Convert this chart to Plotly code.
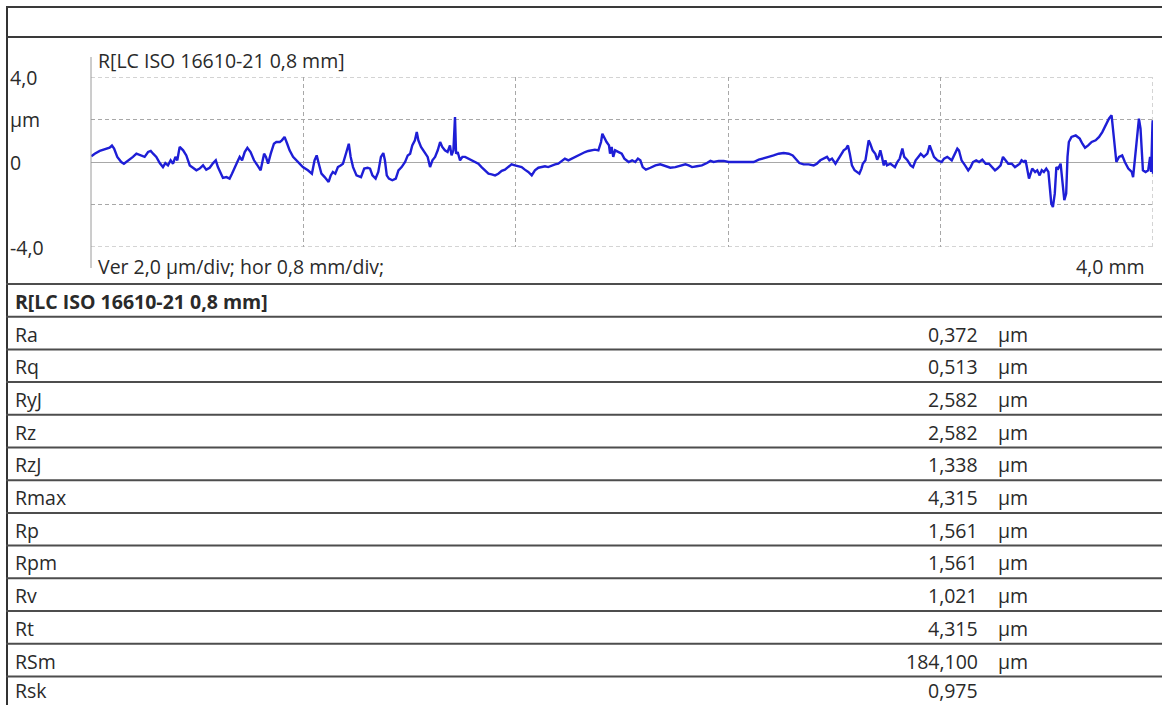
import plotly.graph_objects as go

W, H = 1162, 705

# Roughness profile after the 0.8 mm Gaussian filter: position (mm) vs height (µm)
pos_mm = [
    0.001, 0.014, 0.033, 0.045, 0.058, 0.070, 0.079, 0.087, 0.099, 0.114,
    0.124, 0.139, 0.158, 0.171, 0.190, 0.202, 0.215, 0.225, 0.234, 0.246,
    0.259, 0.271, 0.280, 0.290, 0.300, 0.309, 0.318, 0.325, 0.334, 0.347,
    0.359, 0.372, 0.384, 0.397, 0.409, 0.422, 0.434, 0.447, 0.460, 0.470,
    0.478, 0.488, 0.497, 0.510, 0.522, 0.531, 0.541, 0.551, 0.560, 0.569,
    0.579, 0.589, 0.601, 0.614, 0.627, 0.639, 0.644, 0.652, 0.659, 0.667,
    0.677, 0.689, 0.698, 0.711, 0.719, 0.729, 0.739, 0.748, 0.761, 0.780,
    0.798, 0.817, 0.832, 0.842, 0.850, 0.858, 0.868, 0.880, 0.895, 0.903,
    0.911, 0.920, 0.930, 0.940, 0.949, 0.962, 0.971, 0.978, 0.987, 1.000,
    1.017, 1.029, 1.042, 1.051, 1.060, 1.072, 1.082, 1.092, 1.101, 1.107,
    1.114, 1.122, 1.135, 1.148, 1.158, 1.170, 1.183, 1.193, 1.202, 1.210,
    1.220, 1.227, 1.233, 1.243, 1.256, 1.268, 1.277, 1.286, 1.296, 1.306,
    1.315, 1.323, 1.333, 1.343, 1.352, 1.358, 1.365, 1.371, 1.375, 1.381,
    1.390, 1.399, 1.409, 1.421, 1.434, 1.446, 1.459, 1.471, 1.484, 1.497,
    1.509, 1.522, 1.534, 1.547, 1.559, 1.572, 1.584, 1.597, 1.609, 1.622,
    1.634, 1.647, 1.660, 1.672, 1.685, 1.697, 1.710, 1.722, 1.735, 1.748,
    1.760, 1.773, 1.785, 1.798, 1.810, 1.823, 1.836, 1.848, 1.861, 1.873,
    1.886, 1.898, 1.911, 1.921, 1.926, 1.934, 1.942, 1.951, 1.955, 1.961,
    1.967, 1.974, 1.986, 1.999, 2.009,
    2.025, 2.038, 2.050, 2.060, 2.069, 2.078, 2.090, 2.107, 2.126, 2.144,
    2.163, 2.182, 2.201, 2.220, 2.239, 2.251, 2.264, 2.282, 2.301, 2.320,
    2.333, 2.345, 2.364, 2.383, 2.402, 2.427, 2.452, 2.477, 2.496, 2.515,
    2.534, 2.552, 2.571, 2.590, 2.609, 2.628, 2.643, 2.655, 2.668, 2.684,
    2.703, 2.722, 2.734, 2.747, 2.760, 2.772, 2.781, 2.791, 2.804, 2.816,
    2.829, 2.835, 2.844, 2.851, 2.858, 2.866, 2.876, 2.885, 2.894, 2.902,
    2.907, 2.917, 2.923, 2.929, 2.935, 2.944, 2.954, 2.961, 2.967, 2.973,
    2.979, 2.986, 2.992, 2.998, 3.011,
    3.028, 3.037, 3.046, 3.056, 3.063, 3.075, 3.087, 3.096, 3.106, 3.116,
    3.125, 3.137, 3.150, 3.159, 3.166, 3.175, 3.188, 3.204, 3.213, 3.225,
    3.242, 3.254, 3.263, 3.269, 3.279, 3.292, 3.304, 3.313, 3.322, 3.334,
    3.345, 3.357, 3.370, 3.382, 3.395, 3.405, 3.414, 3.426, 3.435, 3.445,
    3.455, 3.468, 3.480, 3.489, 3.498, 3.505, 3.514, 3.520, 3.527, 3.533,
    3.539, 3.545, 3.556, 3.564, 3.573, 3.581, 3.589, 3.598, 3.606, 3.611,
    3.617, 3.623, 3.630, 3.636, 3.643, 3.652, 3.658, 3.666, 3.673, 3.678,
    3.683, 3.693, 3.709, 3.724, 3.734, 3.744, 3.756, 3.769, 3.784, 3.797,
    3.809, 3.822, 3.834, 3.844, 3.853, 3.862, 3.872, 3.884, 3.894, 3.907,
    3.920, 3.925, 3.932, 3.941, 3.947, 3.953, 3.962, 3.972, 3.982, 3.989,
    3.993, 3.998, 3.999, 4.000,
]
height_um = [
    0.27, 0.39, 0.52, 0.58, 0.63, 0.67, 0.77, 0.63, 0.24, 0.00,
    -0.08, 0.05, 0.24, 0.39, 0.31, 0.24, 0.47, 0.52, 0.39, 0.24,
    -0.05, -0.24, -0.05, -0.16, 0.08, -0.08, 0.24, 0.08, 0.71, 0.55,
    0.31, -0.16, -0.27, -0.39, -0.31, -0.16, -0.36, -0.27, -0.05, 0.08,
    -0.24, -0.47, -0.75, -0.71, -0.78, -0.55, -0.31, 0.00, 0.24, 0.08,
    0.47, 0.67, 0.47, 0.08, -0.16, -0.39, -0.08, 0.39, 0.24, -0.08,
    0.39, 0.86, 0.94, 0.94, 1.02, 1.18, 0.86, 0.55, 0.24, 0.00,
    -0.24, -0.39, -0.55, 0.08, 0.31, -0.08, -0.55, -0.71, -0.94, -0.63,
    -0.47, -0.55, -0.24, -0.16, -0.08, 0.47, 0.86, 0.24, -0.24, -0.63,
    -0.71, -0.31, -0.27, -0.31, -0.63, -0.78, -0.47, 0.24, 0.42, 0.08,
    -0.63, -0.78, -0.86, -0.78, -0.39, -0.24, 0.00, 0.31, 0.39, 0.78,
    1.02, 1.41, 1.02, 0.71, 0.47, 0.24, -0.24, 0.08, 0.24, 0.55,
    0.94, 0.71, 0.55, 0.47, 0.78, 0.31, 0.55, 2.12, 0.39, 0.47,
    0.08, 0.24, 0.24, 0.16, 0.08, 0.00, -0.08, -0.24, -0.39, -0.55,
    -0.58, -0.63, -0.55, -0.42, -0.36, -0.24, -0.11, -0.16, -0.20, -0.24,
    -0.36, -0.47, -0.63, -0.39, -0.27, -0.24, -0.20, -0.24, -0.16, -0.11,
    -0.08, 0.05, 0.16, 0.08, 0.16, 0.24, 0.31, 0.39, 0.47, 0.52,
    0.55, 0.58, 0.55, 0.94, 1.33, 1.10, 0.94, 0.78, 0.39, 0.71,
    0.24, 0.55, 0.47, 0.39, 0.16,
    0.00, 0.08, 0.00, 0.16, 0.08, -0.24, -0.36, -0.27, -0.16, -0.11,
    -0.20, -0.27, -0.24, -0.16, -0.11, -0.16, -0.24, -0.20, -0.16, -0.05,
    0.05, 0.00, 0.05, 0.05, 0.00, 0.00, 0.00, 0.00, 0.00, 0.11,
    0.16, 0.24, 0.31, 0.39, 0.42, 0.39, 0.31, 0.16, -0.05, -0.11,
    -0.11, -0.16, -0.08, 0.08, 0.16, 0.24, 0.08, 0.16, -0.08, 0.16,
    0.39, 0.55, 0.63, 0.78, 0.39, -0.16, -0.39, -0.47, -0.55, -0.31,
    -0.08, 0.08, 0.47, 1.02, 0.86, 0.55, 0.39, 0.11, 0.27, 0.55,
    0.24, -0.16, 0.08, -0.16, -0.08,
    -0.24, 0.00, 0.16, 0.63, 0.24, 0.08, -0.16, -0.24, 0.08, 0.24,
    0.39, 0.24, 0.39, 0.78, 0.55, 0.24, 0.08, 0.00, 0.16, 0.24,
    0.08, 0.39, 0.63, 0.55, 0.08, -0.16, -0.39, -0.24, 0.00, 0.08,
    0.00, 0.11, -0.08, -0.08, -0.24, -0.39, -0.31, -0.16, 0.24, 0.08,
    -0.08, -0.08, -0.24, -0.16, -0.08, 0.08, 0.00, 0.08, -0.39, -0.78,
    -0.55, -0.31, -0.47, -0.39, -0.63, -0.39, -0.47, -0.31, -0.47, -1.02,
    -1.96, -2.12, -1.49, -0.24, -0.31, -0.08, -0.94, -1.80, -1.49, 0.24,
    0.94, 1.18, 1.25, 1.10, 0.86, 0.67, 0.78, 0.94, 1.02, 1.18,
    1.41, 1.73, 2.04, 2.20, 1.02, 0.00, 0.24, 0.31, 0.00, -0.31,
    -0.47, -0.71, 0.16, 1.49, 2.04, 1.57, -0.39, -0.47, -0.39, 0.24,
    -0.47, 1.80, 1.96, -0.55,
]

# Parameter table
param_names = ["Ra", "Rq", "RyJ", "Rz", "RzJ", "Rmax", "Rp", "Rpm", "Rv", "Rt", "RSm", "Rsk"]
param_values = [0.372, 0.513, 2.582, 2.582, 1.338, 4.315, 1.561, 1.561, 1.021, 4.315, 184.100, 0.975]
param_units = ["µm", "µm", "µm", "µm", "µm", "µm", "µm", "µm", "µm", "µm", "µm", ""]

filter_title = "R[LC ISO 16610-21 0,8 mm]"
scale_note = "Ver 2,0 µm/div; hor 0,8 mm/div;"
y_label_text = ["4,0", "µm", "0", "-4,0"]
y_label_at = [4, 2, 0, -4]
x_end_label = "4,0 mm"

FONT = "Open Sans"
FS = 19.5
TXT = "#2a2a2a"
GRID = "#a8a8a8"
RULE = "#4d4d4d"
DASH = "4px,3px"


def fx(px):
    return px / W


def fy(py):
    return 1 - py / H


fig = go.Figure()
fig.add_trace(go.Scatter(
    x=pos_mm, y=height_um, mode="lines",
    line=dict(color="#1e1ed6", width=2.4),
    hoverinfo="skip", showlegend=False,
))

plot_left, plot_right, plot_top, plot_bottom = 91, 1153, 77, 247

fig.update_layout(
    width=W, height=H,
    margin=dict(l=0, r=0, t=0, b=0),
    paper_bgcolor="white", plot_bgcolor="white",
    showlegend=False,
    xaxis=dict(
        domain=[fx(plot_left), fx(plot_right)], range=[0, 4.0],
        tick0=0, dtick=0.8, showgrid=True, gridcolor=GRID, gridwidth=1,
        griddash=DASH, zeroline=False, showline=False,
        showticklabels=False, ticks="", fixedrange=True,
    ),
    yaxis=dict(
        domain=[fy(plot_bottom), fy(plot_top)], range=[-4, 4],
        tick0=0, dtick=2, showgrid=True, gridcolor=GRID, gridwidth=1,
        griddash=DASH, zeroline=True, zerolinecolor=GRID, zerolinewidth=1,
        showline=False, showticklabels=False, ticks="", fixedrange=True,
    ),
)

shapes = []
# dashed frame lines on the outer divisions (top, bottom, right)
for yv in (4, -4):
    shapes.append(dict(type="line", xref="x", yref="y", x0=0, x1=4.0, y0=yv, y1=yv,
                       line=dict(color=GRID, width=1, dash=DASH), layer="below"))
shapes.append(dict(type="line", xref="x", yref="y", x0=4.0, x1=4.0, y0=-4, y1=4,
                   line=dict(color=GRID, width=1, dash=DASH), layer="below"))
# left vertical axis line of the profile panel
shapes.append(dict(type="line", xref="paper", yref="paper",
                   x0=fx(plot_left), x1=fx(plot_left), y0=fy(57), y1=fy(268),
                   line=dict(color="#9a9a9a", width=1)))
# frame: outer left edge, top edge and header separator
shapes.append(dict(type="line", xref="paper", yref="paper",
                   x0=fx(7), x1=fx(7), y0=fy(6), y1=fy(705),
                   line=dict(color="#333333", width=2)))
for yy in (7, 37):
    shapes.append(dict(type="line", xref="paper", yref="paper",
                       x0=fx(6), x1=1, y0=fy(yy), y1=fy(yy),
                       line=dict(color="#3a3a3a", width=2)))

# table rules
table_top = 284
row_h = 32.7
n_rows = len(param_names) + 1
for i in range(n_rows):
    yy = table_top + i * row_h
    shapes.append(dict(type="line", xref="paper", yref="paper",
                       x0=fx(6), x1=1, y0=fy(yy), y1=fy(yy),
                       line=dict(color=RULE, width=2)))
fig.update_layout(shapes=shapes)

ann = []
font = dict(family=FONT, size=FS, color=TXT)

# profile panel texts
ann.append(dict(text=filter_title, x=fx(97), y=fy(60), xref="paper", yref="paper",
                xanchor="left", yanchor="middle", showarrow=False, font=font, borderpad=0))
ann.append(dict(text=scale_note, x=fx(97), y=fy(266), xref="paper", yref="paper",
                xanchor="left", yanchor="middle", showarrow=False, font=font, borderpad=0))
ann.append(dict(text=x_end_label, x=fx(1146), y=fy(266), xref="paper", yref="paper",
                xanchor="right", yanchor="middle", showarrow=False, font=font, borderpad=0))
for t, v in zip(y_label_text, y_label_at):
    ann.append(dict(text=t, x=fx(9), y=v, xref="paper", yref="y",
                    xanchor="left", yanchor="middle", showarrow=False, font=font, borderpad=0))

# table header
ann.append(dict(text="<b>" + filter_title + "</b>", x=fx(14), y=fy(table_top + row_h / 2 + 1),
                xref="paper", yref="paper", xanchor="left", yanchor="middle",
                showarrow=False, font=font, borderpad=0))

# table rows (last row kept inside the page)
for i, (name, val, unit) in enumerate(zip(param_names, param_values, param_units)):
    cy = min(table_top + (i + 1) * row_h + row_h / 2 + 1, H - 14.5)
    ann.append(dict(text=name, x=fx(14), y=fy(cy), xref="paper", yref="paper",
                    xanchor="left", yanchor="middle", showarrow=False, font=font, borderpad=0))
    ann.append(dict(text=f"{val:.3f}".replace(".", ","), x=fx(979), y=fy(cy),
                    xref="paper", yref="paper", xanchor="right", yanchor="middle",
                    showarrow=False, font=font, borderpad=0))
    if unit:
        ann.append(dict(text=unit, x=fx(997), y=fy(cy), xref="paper", yref="paper",
                        xanchor="left", yanchor="middle", showarrow=False, font=font, borderpad=0))

fig.update_layout(annotations=ann)

fig.write_html("out.html", config={"displayModeBar": False})
